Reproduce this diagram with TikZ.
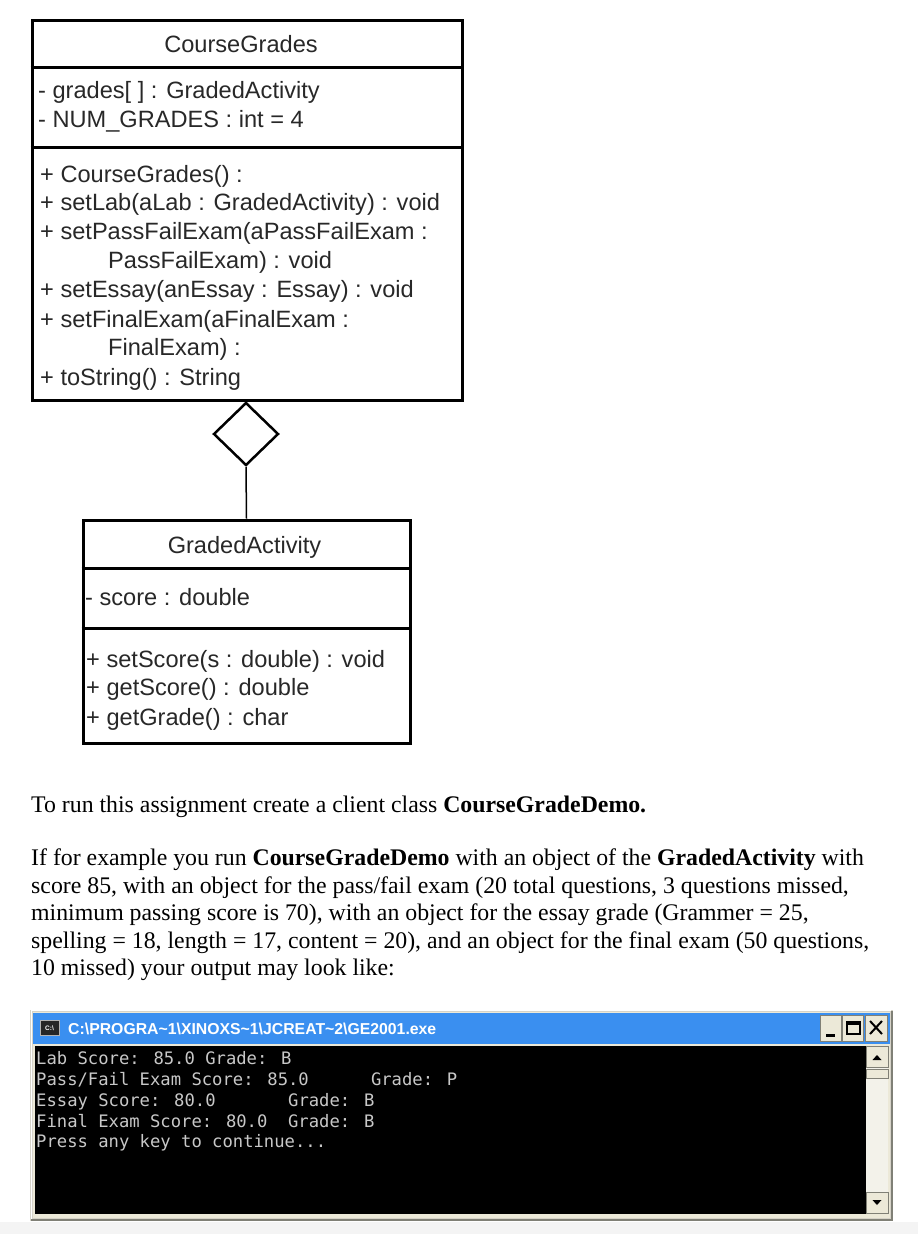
\documentclass[tikz,border=0pt]{standalone}
\usepackage{fontspec}
\setmainfont{Liberation Serif}
\newfontfamily\umlfont{Liberation Sans}
\newfontfamily\consfont{DejaVu Sans Mono}
\newfontfamily\titlefont{Liberation Sans}
\usetikzlibrary{shapes.geometric}
\definecolor{xpblue}{RGB}{58,143,240}
\definecolor{face}{RGB}{236,233,216}
\definecolor{frameg}{RGB}{214,211,200}
\definecolor{shadowg}{RGB}{128,128,118}
\definecolor{consgray}{RGB}{200,200,200}
\definecolor{umlgray}{RGB}{40,40,40}
\definecolor{track}{RGB}{243,242,234}
\definecolor{pagegray}{RGB}{244,244,244}
\tikzset{
  umlbox/.style={draw=black, line width=3pt, fill=white, inner sep=0pt},
  umldiv/.style={draw=black, line width=3pt},
  umltxt/.style={font=\umlfont\fontsize{23.6}{29}\selectfont, text=umlgray, inner sep=0pt, anchor=base west},
  umltitle/.style={font=\umlfont\fontsize{23.6}{29}\selectfont, text=umlgray, inner sep=0pt, anchor=base},
  paratxt/.style={font=\fontsize{23.8}{27.5}\selectfont, text=black, inner sep=0pt, anchor=base west},
  constxt/.style={font=\consfont\fontsize{17.2}{20}\selectfont, text=consgray, inner sep=0pt, anchor=base west},
  winbtn/.style={draw=shadowg, fill=face, line width=0.8pt, inner sep=0pt, minimum width=21pt, minimum height=26pt},
  scrbtn/.style={draw=shadowg, fill=face, line width=0.8pt, inner sep=0pt, minimum width=22pt, minimum height=21pt},
}
\begin{document}
\begin{tikzpicture}[x=1pt,y=-1pt]
\path[use as bounding box, fill=white] (0,0) rectangle (918,1234);
\fill[pagegray] (0,1222) rectangle (918,1234);

% ---------- CourseGrades ----------
\node[umlbox, minimum width=430pt, minimum height=380pt] (cg) at (247,210) {};
\coordinate (cgd1) at (0,67);
\coordinate (cgd2) at (0,147);
\draw[umldiv] (cg.west |- cgd1) -- (cg.east |- cgd1);
\draw[umldiv] (cg.west |- cgd2) -- (cg.east |- cgd2);
\node[umltitle] (cgt) at (241,52) {CourseGrades};
\node[umltxt] (cga1) at (38,98) {- grades[ ] : GradedActivity};
\node[umltxt] (cga2) at (38,127) {- NUM\_GRADES : int = 4};
\node[umltxt] (cgm1) at (40,182) {+ CourseGrades() :};
\node[umltxt] (cgm2) at (40,210) {+ setLab(aLab : GradedActivity) : void};
\node[umltxt] (cgm3) at (40,239) {+ setPassFailExam(aPassFailExam :};
\node[umltxt] (cgm3b) at (108,268) {PassFailExam) : void};
\node[umltxt] (cgm4) at (40,297) {+ setEssay(anEssay : Essay) : void};
\node[umltxt] (cgm5) at (40,327) {+ setFinalExam(aFinalExam :};
\node[umltxt] (cgm5b) at (108,355) {FinalExam) :};
\node[umltxt] (cgm6) at (40,385) {+ toString() : String};

% ---------- aggregation ----------
\node[draw=black, fill=white, diamond, line width=2.5pt, inner sep=0pt,
      minimum width=65pt, minimum height=63pt] (dia) at (246,434) {};

% ---------- GradedActivity ----------
\node[umlbox, minimum width=327pt, minimum height=223pt] (ga) at (246.5,631.5) {};
\coordinate (gad1) at (0,568);
\coordinate (gad2) at (0,628);
\draw[umldiv] (ga.west |- gad1) -- (ga.east |- gad1);
\draw[umldiv] (ga.west |- gad2) -- (ga.east |- gad2);
\draw[line width=1.5pt] (dia.south) -- (ga.north);
\node[umltitle] (gat) at (244.5,553) {GradedActivity};
\node[umltxt] (gaa1) at (85,605) {- score : double};
\node[umltxt] (gam1) at (86,667) {+ setScore(s : double) : void};
\node[umltxt] (gam2) at (86,695) {+ getScore() : double};
\node[umltxt] (gam3) at (86,725) {+ getGrade() : char};

% ---------- paragraphs ----------
\node[paratxt] (p0) at (31,812) {To run this assignment create a client class \textbf{CourseGradeDemo.}};
\node[paratxt] (p1) at (31,865) {If for example you run \textbf{CourseGradeDemo} with an object of the \textbf{GradedActivity} with};
\node[paratxt] (p2) at (31,893) {score 85, with an object for the pass/fail exam (20 total questions, 3 questions missed,};
\node[paratxt] (p3) at (31,920) {minimum passing score is 70), with an object for the essay grade (Grammer = 25,};
\node[paratxt] (p4) at (31,948) {spelling = 18, length = 17, content = 20), and an object for the final exam (50 questions,};
\node[paratxt] (p5) at (31,975) {10 missed) your output may look like:};

% ---------- console window ----------
\fill[frameg] (30,1010) rectangle (893,1221);
\draw[shadowg, line width=2pt] (31,1220) -- (892,1220) -- (892,1011);
\draw[white, line width=1pt] (31,1219) -- (31,1010.5) -- (891,1010.5);
\fill[face] (32.5,1012) rectangle (890,1218);
\fill[xpblue] (33,1013) rectangle (890,1044);
% icon
\fill[black!85] (40,1020) rectangle (59,1035);
\draw[white!70!black, line width=0.6pt] (40,1020) rectangle (59,1035);
\node[font=\umlfont\bfseries\fontsize{6.5}{7}\selectfont, text=white, inner sep=0pt] (icon) at (49.5,1028) {C:\textbackslash};
\node[font=\titlefont\bfseries\fontsize{15.8}{18}\selectfont, text=white, inner sep=0pt, anchor=base west] (wtitle) at (68,1034) {C:\textbackslash PROGRA\~{}1\textbackslash XINOXS\~{}1\textbackslash JCREAT\~{}2\textbackslash GE2001.exe};
% title buttons
\node[winbtn] (bmin) at (830.5,1028) {};
\node[winbtn] (bmax) at (853,1028) {};
\node[winbtn, minimum width=22pt] (bclose) at (876,1028) {};
\fill[black] (826,1033.5) rectangle (835,1036.5);
\draw[black, line width=1.3pt] (847,1022) rectangle (860,1034);
\fill[black] (846.5,1021.5) rectangle (860.5,1024.5);
\draw[black, line width=2pt] (870,1021) -- (882,1034);
\draw[black, line width=2pt] (882,1021) -- (870,1034);
% console area
\fill[black] (35,1046) rectangle (866,1214);
\fill[track] (866,1046) rectangle (888,1214);
\node[scrbtn] (sup) at (877,1057) {};
\node[scrbtn, minimum height=9pt] (sthumb) at (877,1073.5) {};
\node[scrbtn] (sdown) at (877,1202.5) {};
\fill[black] (872.5,1060) -- (881.5,1060) -- (877,1055) -- cycle;
\fill[black] (872.5,1200) -- (881.5,1200) -- (877,1205) -- cycle;
% console text
\node[constxt] (c1) at (36,1064) {Lab Score: 85.0 Grade: B};
\node[constxt] (c2) at (36,1085) {Pass/Fail Exam Score: 85.0\ \ \ \ \ \ Grade: P};
\node[constxt] (c3) at (36,1106) {Essay Score: 80.0\ \ \ \ \ \ \ Grade: B};
\node[constxt] (c4) at (36,1127) {Final Exam Score: 80.0\ \ Grade: B};
\node[constxt] (c5) at (36,1147) {Press any key to continue...};
\end{tikzpicture}
\end{document}
